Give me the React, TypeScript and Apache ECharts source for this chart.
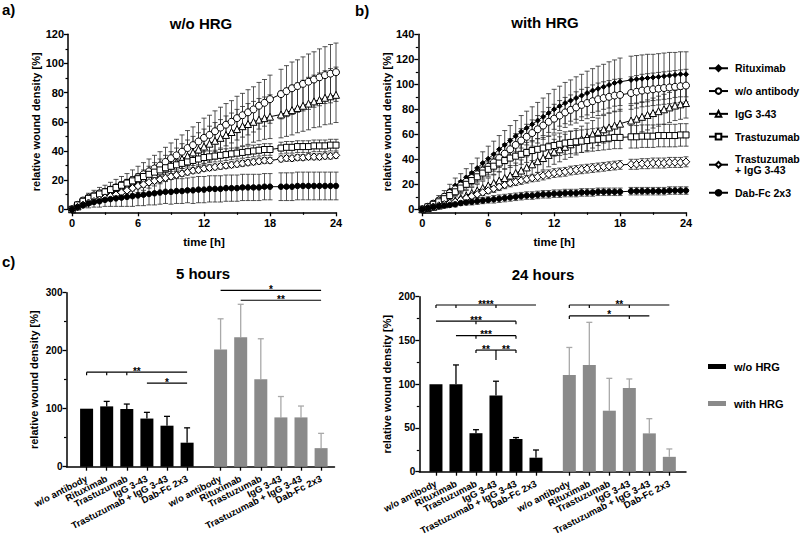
import React, { useEffect, useRef } from 'react';
import * as echarts from 'echarts';

const FONT = '"Liberation Sans", Arial, Helvetica, sans-serif';

// ---------- time course (panels a and b) ----------
const TIME_H = [0, 0.5, 1, 1.5, 2, 2.5, 3, 3.5, 4, 4.5, 5, 5.5, 6, 6.5, 7, 7.5, 8, 8.5, 9, 9.5, 10, 10.5, 11, 11.5, 12, 12.5, 13, 13.5, 14, 14.5, 15, 15.5, 16, 16.5, 17, 17.5, 18, 19, 19.5, 20, 20.5, 21, 21.5, 22, 22.5, 23, 23.5, 24];

// panel a: w/o HRG
const A_WO = [0, 3, 6, 8, 9.5, 11, 12, 13.5, 15, 16.5, 18, 20, 22, 24, 26, 28, 30, 32.5, 35, 37, 39.5, 42, 44, 46.5, 49, 51, 53.5, 56, 58, 60, 62.5, 64.5, 66.5, 68.5, 71, 73, 75.5, 79, 81, 83, 84.5, 86, 87.5, 89, 90.5, 92, 93, 94];
const A_WO_ERR = [0, 1, 2, 3, 3.5, 4, 4.5, 5, 5.5, 6, 6.5, 7, 7.5, 8, 8.5, 9, 9.5, 10, 10.5, 11, 11.5, 12, 12.5, 13, 13.5, 13.5, 14, 14, 14.5, 14.5, 15, 15, 15.5, 15.5, 16, 16, 16.5, 17, 17.5, 18, 18, 18.5, 19, 19, 19.5, 19.5, 20, 20];
const A_IGG = [0, 2, 4, 5.5, 7, 8, 9, 10.5, 12, 13.5, 15, 16.5, 18, 20, 22, 24, 26, 28, 30, 32, 34.5, 36.5, 39, 41, 43, 45, 47, 49, 51, 53, 55, 57, 58.5, 60, 61.5, 62.5, 63.5, 65, 66.5, 68, 69.5, 71, 72.5, 74, 75, 76.5, 77.5, 78.5];
const A_IGG_ERR = [0, 1, 1.5, 2, 2.5, 3, 3.5, 4, 4.5, 5, 5.5, 6, 6.5, 7, 7.5, 8, 8.5, 9, 9.5, 10, 10.5, 11, 11, 11.5, 12, 12, 12.5, 12.5, 13, 13, 13.5, 13.5, 14, 14, 14.5, 14.5, 15, 16, 16.5, 17, 17, 17.5, 18, 18, 18.5, 18.5, 19, 19];
const A_TRA = [0, 3, 5.5, 7.5, 9, 10.5, 12, 13.5, 15, 16.5, 18, 19.5, 21, 22.5, 24, 25.5, 27, 28.5, 29.5, 30.5, 31.5, 32.5, 33.5, 34.5, 35.5, 36, 36.5, 37, 37.5, 38, 38.5, 39, 39.5, 40, 40.5, 41, 41, 42, 42.5, 42.5, 43, 43, 43, 43.5, 43.5, 43.5, 44, 44];
const A_TRA_ERR = [0, 0.5, 1, 1, 1.5, 1.5, 2, 2, 2, 2.5, 2.5, 2.5, 3, 3, 3, 3, 3, 3.5, 3.5, 3.5, 3.5, 3.5, 3.5, 4, 4, 4, 4, 4, 4, 4, 4, 4, 4, 4, 4, 4, 4, 4, 4, 4, 4, 4, 4, 4, 4, 4, 4, 4];
const A_TI = [0, 1.5, 3, 4.5, 5.5, 6.5, 8, 9, 10, 11.5, 13, 14.5, 16, 17, 18.5, 19.5, 20.5, 21.5, 22.5, 23.5, 24.5, 25.5, 26.5, 27, 28, 28.5, 29, 29.5, 30, 30.5, 31, 31.5, 32, 32.5, 33, 33.5, 33.5, 34.5, 35, 35, 35.5, 35.5, 36, 36, 36, 36.5, 36.5, 37];
const A_TI_ERR = [0, 0.5, 0.5, 1, 1, 1, 1.5, 1.5, 1.5, 1.5, 2, 2, 2, 2, 2, 2, 2, 2, 2, 2, 2, 2, 2, 2, 2, 2, 2, 2, 2, 2, 2, 2, 2, 2, 2, 2, 2, 2, 2, 2, 2, 2, 2, 2, 2, 2, 2, 2];
const A_DAB = [0, 1.5, 3, 4, 5, 5.5, 6.5, 7, 7.5, 8, 8.5, 9, 9.5, 10, 10.5, 11, 11.5, 12, 12, 12.5, 12.5, 13, 13, 13.5, 13.5, 14, 14, 14, 14.5, 14.5, 14.5, 15, 15, 15, 15, 15.5, 15.5, 15.5, 15.5, 15.5, 16, 16, 16, 16, 16, 16, 16, 16];
const A_DAB_ERR = [0, 1, 2, 3, 3.5, 4, 4.5, 5, 5.5, 6, 6.5, 7, 7, 7.5, 7.5, 8, 8, 8, 8.5, 8.5, 8.5, 8.5, 9, 9, 9, 9, 9, 9, 9, 9, 9, 9, 9, 9, 9, 9, 9, 9.5, 9.5, 9.5, 9.5, 9.5, 9.5, 9.5, 9.5, 9.5, 9.5, 9.5];

// panel b: with HRG
const B_RIT = [0, 2, 5, 8, 11, 15, 19, 22, 25.5, 29, 33, 37, 40.5, 44, 48, 51.5, 55, 58.5, 62, 65, 68, 71, 74, 77, 80, 82.5, 85, 87, 89, 91, 93, 95, 96.5, 98, 99.5, 101, 102, 103.5, 104, 104.5, 105, 105.5, 106, 106.5, 107, 107.5, 108, 108];
const B_RIT_ERR = [0, 1, 2, 3, 4, 5, 6, 6.5, 7, 7.5, 8, 9, 10, 10.5, 11, 11.5, 12, 12.5, 13, 13.5, 14, 14.5, 15, 15.5, 16, 16, 16.5, 16.5, 17, 17, 17.5, 17.5, 18, 18, 18.5, 18.5, 19, 19, 19, 19, 19, 18.5, 18.5, 18.5, 18.5, 18, 18, 18];
const B_WO = [0, 2, 4.5, 7, 10, 13, 16, 19, 22, 25, 28, 31, 34, 37.5, 41, 44.5, 48, 51.5, 55, 58, 61, 64, 67, 70, 72.5, 75, 77.5, 79.5, 81.5, 83.5, 85, 86.5, 88, 89, 90, 91, 91.5, 93, 94, 95, 95.5, 96, 96.5, 97, 97.5, 98, 98.5, 99];
const B_WO_ERR = [0, 1, 1.5, 2, 2.5, 3, 3.5, 4, 4.5, 5, 5.5, 6, 6.5, 7, 7.5, 8, 8.5, 9, 9.5, 10, 10.5, 11, 11, 11.5, 11.5, 12, 12, 12, 12.5, 12.5, 12.5, 13, 13, 13, 13, 13, 13, 13, 13, 13, 13, 13, 13, 13, 13, 13, 13, 13];
const B_IGG = [0, 1, 2, 3, 4, 5.5, 7, 9, 11, 13, 15, 17, 19, 21, 23, 25, 27, 29, 31, 33.5, 36, 38.5, 41, 43.5, 46, 48, 50, 52, 54, 56, 58, 60, 62, 64, 65.5, 67, 68.5, 71, 72.5, 74, 75.5, 77, 78.5, 80, 81.5, 83, 84, 85];
const B_IGG_ERR = [0, 0.5, 1, 1.5, 2, 2.5, 3, 3.5, 4, 4.5, 5, 5.5, 6, 6.5, 7, 7.5, 8, 8, 8.5, 8.5, 9, 9, 9.5, 9.5, 10, 10, 10, 10.5, 10.5, 10.5, 11, 11, 11, 11, 11.5, 11.5, 11.5, 12, 12, 12, 12, 12, 12, 12, 12, 12, 12, 12];
const B_TRA = [0, 2, 4, 6, 8.5, 11, 14, 17, 20, 23, 26, 29, 32, 34.5, 37, 39, 41, 42.5, 44, 45.5, 47, 48, 49, 50, 51, 52, 53, 53.5, 54, 54.5, 55, 55.5, 56, 56.5, 57, 57.5, 57.5, 58, 58, 58.5, 58.5, 58.5, 59, 59, 59, 59, 59.5, 59.5];
const B_TRA_ERR = [0, 0.5, 1, 1.5, 2, 2.5, 3, 3.5, 4, 4.5, 5, 5.5, 6, 6.5, 7, 7, 7.5, 7.5, 8, 8, 8, 8.5, 8.5, 8.5, 8.5, 9, 9, 9, 9, 9, 9, 9, 9, 9, 9, 9, 9, 9, 9, 9, 9, 9, 9, 9, 9, 9, 9, 9];
const B_TI = [0, 1, 2, 3, 4, 5, 6, 7.5, 9, 10.5, 12, 13.5, 15, 16.5, 18, 19.5, 21, 22, 23, 24, 25, 26, 27, 28, 29, 29.5, 30, 31, 31.5, 32, 32.5, 33, 33.5, 34, 34.5, 35, 35.5, 36, 36, 36.5, 36.5, 37, 37, 37, 37.5, 37.5, 37.5, 38];
const B_TI_ERR = [0, 0.5, 0.5, 1, 1, 1.5, 1.5, 2, 2, 2, 2.5, 2.5, 2.5, 3, 3, 3, 3, 3, 3, 3, 3, 3.5, 3.5, 3.5, 3.5, 3.5, 3.5, 3.5, 3.5, 3.5, 3.5, 3.5, 3.5, 3.5, 3.5, 3.5, 3.5, 4, 4, 4, 4, 4, 4, 4, 4, 4, 4, 4];
const B_DAB = [0, 1, 2, 2.5, 3, 3.5, 4, 5, 5.5, 6, 6.5, 7, 7.5, 8, 8.5, 9, 9.5, 10, 10.5, 11, 11, 11.5, 12, 12, 12.5, 12.5, 13, 13, 13, 13.5, 13.5, 13.5, 14, 14, 14, 14, 14, 14.5, 14.5, 14.5, 14.5, 14.5, 14.5, 14.5, 15, 15, 15, 15];
const B_DAB_ERR = [0, 0.5, 1, 1, 1.5, 1.5, 2, 2, 2, 2.5, 2.5, 2.5, 2.5, 3, 3, 3, 3, 3, 3, 3, 3, 3, 3, 3, 3, 3, 3, 3, 3, 3, 3, 3, 3, 3, 3, 3, 3, 3, 3, 3, 3, 3, 3, 3, 3, 3, 3, 3];

const LEGEND_NAMES = ['Rituximab', 'w/o antibody', 'IgG 3-43', 'Trastuzumab', 'Trastuzumab + IgG 3-43', 'Dab-Fc 2x3'];

// ---------- bar charts (panel c) ----------
const BAR_CATEGORIES = ['w/o antibody', 'Rituximab', 'Trastuzumab', 'IgG 3-43', 'Trastuzumab + IgG 3-43', 'Dab-Fc 2x3'];
const GROUPS = ['w/o HRG', 'with HRG'];

const H5_WO_HRG = [100, 104, 99.5, 83, 70.7, 41.4];
const H5_WO_HRG_ERR = [0, 8.6, 8.5, 10.7, 16.1, 25.6];
const H5_WITH_HRG = [202, 223, 150.6, 85, 85, 32];
const H5_WITH_HRG_ERR = [53, 57, 70, 36, 19.6, 25.5];

const H24_WO_HRG = [100, 100, 44, 87, 37.3, 16];
const H24_WO_HRG_ERR = [0, 22, 4, 16.4, 1.7, 8.8];
const H24_WITH_HRG = [110.5, 121.9, 69.7, 95.6, 43.8, 17];
const H24_WITH_HRG_ERR = [31.5, 48.8, 37, 10.4, 16.8, 9];

type Bracket = { group: string; from: number; to: number; y: number; label: string; ticks: number[]; stem?: number };
const H5_BRACKETS: Bracket[] = [
  { group: 'w/o HRG', from: 0, to: 5, y: 163, label: '**', ticks: [0, 1, 2] },
  { group: 'w/o HRG', from: 3, to: 5, y: 144, label: '*', ticks: [] },
  { group: 'with HRG', from: 0, to: 5, y: 304, label: '*', ticks: [] },
  { group: 'with HRG', from: 1, to: 5, y: 287, label: '**', ticks: [] },
];
const H24_BRACKETS: Bracket[] = [
  { group: 'w/o HRG', from: 0, to: 5, y: 190.5, label: '****', ticks: [0, 1, 3] },
  { group: 'w/o HRG', from: 0, to: 4, y: 172, label: '***', ticks: [2, 4] },
  { group: 'w/o HRG', from: 1, to: 4, y: 155.5, label: '***', ticks: [2, 4] },
  { group: 'w/o HRG', from: 2, to: 3, y: 139, label: '**', ticks: [2], stem: 3 },
  { group: 'w/o HRG', from: 3, to: 4, y: 139, label: '**', ticks: [4] },
  { group: 'with HRG', from: 0, to: 5, y: 190.5, label: '**', ticks: [0, 1, 3] },
  { group: 'with HRG', from: 0, to: 4, y: 178, label: '*', ticks: [0, 3] },
];

// ---------- layout helpers ----------
const CAT_COUNT = 81;
const STEP = 6;
const POS_5H: Record<string, number> = { 'w/o HRG': 6, 'with HRG': 46 };
const POS_24H: Record<string, number> = { 'w/o HRG': 5, 'with HRG': 45 };

const MARKERS: Record<string, { symbol: string; size: number; filled: boolean }> = {
  'Rituximab': { symbol: 'diamond', size: 5, filled: true },
  'w/o antibody': { symbol: 'circle', size: 7, filled: false },
  'IgG 3-43': { symbol: 'triangle', size: 7, filled: false },
  'Trastuzumab': { symbol: 'rect', size: 6, filled: false },
  'Trastuzumab + IgG 3-43': { symbol: 'diamond', size: 7.5, filled: false },
  'Dab-Fc 2x3': { symbol: 'circle', size: 5.5, filled: true },
};

function axisNames(pos: Record<string, number>) {
  const arr: string[] = new Array(CAT_COUNT).fill('');
  GROUPS.forEach((g) => BAR_CATEGORIES.forEach((c, i) => { arr[pos[g] + STEP * i] = c; }));
  return arr;
}
function spread(values: number[], start: number) {
  const arr: any[] = new Array(CAT_COUNT).fill('-');
  values.forEach((v, i) => { arr[start + STEP * i] = v; });
  return arr;
}

const errRender = (params: any, api: any) => {
  const t = api.value(0), v = api.value(1), e = api.value(2);
  if (!e) return { type: 'group', children: [] };
  const hi = api.coord([t, v + e]);
  const lo = api.coord([t, v - e]);
  const x = hi[0];
  const w = 2.5;
  const style = { stroke: '#2a2a2a', lineWidth: 0.8, fill: null };
  return {
    type: 'group',
    children: [
      { type: 'line', shape: { x1: x, y1: lo[1], x2: x, y2: hi[1] }, style },
      { type: 'line', shape: { x1: x - w, y1: hi[1], x2: x + w, y2: hi[1] }, style },
      { type: 'line', shape: { x1: x - w, y1: lo[1], x2: x + w, y2: lo[1] }, style },
    ],
  };
};

const barErrRender = (color: string) => (params: any, api: any) => {
  const c = api.value(0), v = api.value(1), e = api.value(2);
  if (!e) return { type: 'group', children: [] };
  const p0 = api.coord([c, v]);
  const p1 = api.coord([c, v + e]);
  const style = { stroke: color, lineWidth: 1.3, fill: null };
  return {
    type: 'group',
    children: [
      { type: 'line', shape: { x1: p0[0], y1: p0[1], x2: p0[0], y2: p1[1] }, style },
      { type: 'line', shape: { x1: p0[0] - 3, y1: p1[1], x2: p0[0] + 3, y2: p1[1] }, style },
    ],
  };
};

const bracketRender = (brackets: Bracket[], pos: Record<string, number>) => (params: any, api: any) => {
  const b = brackets[params.dataIndex];
  const base = pos[b.group];
  const idx = (k: number) => base + STEP * k;
  const p1 = api.coord([idx(b.from), b.y]);
  const p2 = api.coord([idx(b.to), b.y]);
  const y = p1[1];
  const style = { stroke: '#000', lineWidth: 1.2, fill: null };
  const children: any[] = [{ type: 'line', shape: { x1: p1[0], y1: y, x2: p2[0], y2: y }, style }];
  b.ticks.forEach((t) => {
    const px = api.coord([idx(t), b.y])[0];
    children.push({ type: 'line', shape: { x1: px, y1: y, x2: px, y2: y + 3 }, style });
  });
  if (b.stem != null) {
    const px = api.coord([idx(b.stem), b.y])[0];
    children.push({ type: 'line', shape: { x1: px, y1: y, x2: px, y2: y + 10 }, style });
  }
  children.push({
    type: 'text',
    x: (p1[0] + p2[0]) / 2,
    y: y - 1,
    style: { text: b.label, align: 'center', verticalAlign: 'middle', font: `bold 10px ${FONT}`, fill: '#000' },
  });
  return { type: 'group', children };
};

const AXIS_LINE = { show: true, onZero: false, lineStyle: { color: '#000', width: 1.5 } };
const AXIS_TICK = { show: true, length: 4, lineStyle: { color: '#000', width: 1.3 } };
const MINOR_TICK = { show: true, splitNumber: 2, length: 2.5, lineStyle: { color: '#000', width: 1.2 } };
const LABEL = (size: number, margin: number) => ({ color: '#000', fontSize: size, fontWeight: 'bold', fontFamily: FONT, margin });
const NAME_STYLE = { color: '#000', fontSize: 11, fontWeight: 'bold', fontFamily: FONT };

function valueXAxis(grid: number) {
  return {
    type: 'value', gridIndex: grid, min: 0, max: 24, interval: 6, offset: 3,
    name: 'time [h]', nameLocation: 'middle', nameGap: 24, nameTextStyle: { ...NAME_STYLE, fontSize: 11.5 },
    axisLine: AXIS_LINE, axisTick: AXIS_TICK, minorTick: MINOR_TICK, splitLine: { show: false },
    axisLabel: LABEL(11, 5),
  };
}
function valueYAxis(grid: number, max: number, interval: number, offset: number, labelSize: number) {
  return {
    type: 'value', gridIndex: grid, min: 0, max, interval, offset,
    name: 'relative wound density [%]', nameLocation: 'middle', nameGap: offset ? 26 : 27, nameTextStyle: NAME_STYLE,
    axisLine: AXIS_LINE, axisTick: AXIS_TICK, minorTick: MINOR_TICK, splitLine: { show: false },
    axisLabel: LABEL(labelSize, 4),
  };
}
function catXAxis(grid: number, names: string[]) {
  // the axis ends (first and last slot) carry blank placeholder labels/ticks that the
  // library's min/max-label rule hides, so every real category label stays visible
  const show = (i: number) => i === 0 || i === CAT_COUNT - 1 || names[i] !== '';
  return {
    type: 'category', gridIndex: grid, data: names.map((_, i) => 'c' + i), boundaryGap: false,
    axisLine: AXIS_LINE,
    axisTick: { ...AXIS_TICK, interval: (i: number) => show(i) },
    axisLabel: {
      ...LABEL(9.5, 11), rotate: 27, interval: (i: number) => show(i),
      showMinLabel: false, showMaxLabel: false, hideOverlap: false,
      formatter: (v: string) => names[Number(String(v).slice(1))] || ' ',
    },
    splitLine: { show: false },
  };
}

function panelSeries(panel: { name: string; values: number[]; errors: number[] }[], ax: number) {
  const out: any[] = [];
  panel.forEach((s) => {
    out.push({
      type: 'custom', xAxisIndex: ax, yAxisIndex: ax, z: 2, clip: false, silent: true,
      renderItem: errRender, encode: { x: 0, y: 1 }, itemStyle: { color: '#000' },
      data: TIME_H.map((t, i) => [t, s.values[i], s.errors[i]]),
    });
  });
  panel.forEach((s) => {
    const m = MARKERS[s.name];
    out.push({
      type: 'line', name: s.name, xAxisIndex: ax, yAxisIndex: ax, z: 3, silent: true,
      data: TIME_H.map((t, i) => [t, s.values[i]]),
      symbol: m.symbol, symbolSize: m.size, showSymbol: true, showAllSymbol: true,
      lineStyle: { color: '#000', width: 1 },
      itemStyle: { color: m.filled ? '#000' : '#fff', borderColor: '#000', borderWidth: 1 },
      emphasis: { disabled: true },
    });
  });
  return out;
}

function barSeries(ax: number, pos: Record<string, number>, wo: number[], woErr: number[], wi: number[], wiErr: number[], brackets: Bracket[]) {
  const colors: Record<string, string> = { 'w/o HRG': '#000', 'with HRG': '#8a8a8a' };
  const errColors: Record<string, string> = { 'w/o HRG': '#000', 'with HRG': '#a9a9a9' };
  const vals: Record<string, number[]> = { 'w/o HRG': wo, 'with HRG': wi };
  const errs: Record<string, number[]> = { 'w/o HRG': woErr, 'with HRG': wiErr };
  const out: any[] = [];
  GROUPS.forEach((g) => {
    out.push({
      type: 'bar', name: g, xAxisIndex: ax, yAxisIndex: ax, z: 3, silent: true,
      data: spread(vals[g], pos[g]), barWidth: 13, barGap: '-100%',
      itemStyle: { color: colors[g] }, emphasis: { disabled: true },
    });
    out.push({
      type: 'custom', xAxisIndex: ax, yAxisIndex: ax, z: 2, clip: false, silent: true,
      renderItem: barErrRender(errColors[g]), encode: { x: 0, y: 1 }, itemStyle: { color: errColors[g] },
      data: vals[g].map((v, i) => [pos[g] + STEP * i, v, errs[g][i]]),
    });
  });
  out.push({
    type: 'custom', xAxisIndex: ax, yAxisIndex: ax, z: 4, clip: false, silent: true,
    renderItem: bracketRender(brackets, pos), encode: { x: 0, y: 1 }, itemStyle: { color: '#000' },
    data: brackets.map((b) => [pos[b.group] + STEP * b.from, b.y]),
  });
  return out;
}

function text(x: number, y: number, s: string, size: number, align = 'center') {
  return {
    type: 'text', x, y, silent: true,
    style: { text: s, align, verticalAlign: 'middle', font: `bold ${size}px ${FONT}`, fill: '#000' },
  };
}

export default function App() {
  const ref = useRef<HTMLDivElement>(null);
  useEffect(() => {
    if (!ref.current) return;
    const chart = echarts.init(ref.current, null, { renderer: 'svg' });

    const panelA = [
      { name: 'w/o antibody', values: A_WO, errors: A_WO_ERR },
      { name: 'IgG 3-43', values: A_IGG, errors: A_IGG_ERR },
      { name: 'Trastuzumab', values: A_TRA, errors: A_TRA_ERR },
      { name: 'Trastuzumab + IgG 3-43', values: A_TI, errors: A_TI_ERR },
      { name: 'Dab-Fc 2x3', values: A_DAB, errors: A_DAB_ERR },
    ];
    const panelB = [
      { name: 'Rituximab', values: B_RIT, errors: B_RIT_ERR },
      { name: 'w/o antibody', values: B_WO, errors: B_WO_ERR },
      { name: 'IgG 3-43', values: B_IGG, errors: B_IGG_ERR },
      { name: 'Trastuzumab', values: B_TRA, errors: B_TRA_ERR },
      { name: 'Trastuzumab + IgG 3-43', values: B_TI, errors: B_TI_ERR },
      { name: 'Dab-Fc 2x3', values: B_DAB, errors: B_DAB_ERR },
    ];

    const option: any = {
      animation: false,
      backgroundColor: '#fff',
      color: ['#000'],
      textStyle: { fontFamily: FONT },
      grid: [
        { left: 72, top: 34.3, width: 264, height: 175, outerBoundsMode: 'none' },
        { left: 422.3, top: 34.3, width: 263.7, height: 175, outerBoundsMode: 'none' },
        { left: 66.5, top: 292.7, width: 268, height: 174, outerBoundsMode: 'none' },
        { left: 419.3, top: 296.7, width: 266.7, height: 175, outerBoundsMode: 'none' },
      ],
      xAxis: [
        valueXAxis(0),
        valueXAxis(1),
        catXAxis(2, axisNames(POS_5H)),
        catXAxis(3, axisNames(POS_24H)),
      ],
      yAxis: [
        valueYAxis(0, 120, 20, 4, 11),
        valueYAxis(1, 140, 20, 4, 11),
        valueYAxis(2, 300, 100, 0, 10),
        valueYAxis(3, 200, 50, 0, 10),
      ],
      legend: [
        {
          data: LEGEND_NAMES, orient: 'vertical', left: 703, top: 56,
          itemWidth: 19, itemHeight: 7, itemGap: 8.3, selectedMode: false,
          formatter: (n: string) => n.replace(' + ', '\n+ '),
          textStyle: { color: '#000', fontSize: 10.5, fontWeight: 'bold', fontFamily: FONT, lineHeight: 10.5, padding: [2, 0, 2, 2] },
        },
        {
          data: GROUPS, orient: 'vertical', left: 703, top: 355, icon: 'rect',
          itemWidth: 18, itemHeight: 5, itemGap: 24, selectedMode: false,
          textStyle: { color: '#000', fontSize: 11, fontWeight: 'bold', fontFamily: FONT, lineHeight: 13, padding: [0, 0, 0, 3] },
        },
      ],
      graphic: [
        text(2, 9, 'a)', 15, 'left'),
        text(355, 10.5, 'b)', 15, 'left'),
        text(2, 261, 'c)', 15, 'left'),
        text(201, 23, 'w/o HRG', 15),
        text(545, 22, 'with HRG', 15),
        text(203, 273, '5 hours', 15),
        text(543, 274, '24 hours', 15),
      ],
      series: [
        ...panelSeries(panelA, 0),
        ...panelSeries(panelB, 1),
        ...barSeries(2, POS_5H, H5_WO_HRG, H5_WO_HRG_ERR, H5_WITH_HRG, H5_WITH_HRG_ERR, H5_BRACKETS),
        ...barSeries(3, POS_24H, H24_WO_HRG, H24_WO_HRG_ERR, H24_WITH_HRG, H24_WITH_HRG_ERR, H24_BRACKETS),
      ],
    };
    chart.setOption(option);
    return () => chart.dispose();
  }, []);
  return <div ref={ref} style={{ position: 'fixed', left: 0, top: 0, width: 800, height: 551, background: '#fff' }} />;
}
